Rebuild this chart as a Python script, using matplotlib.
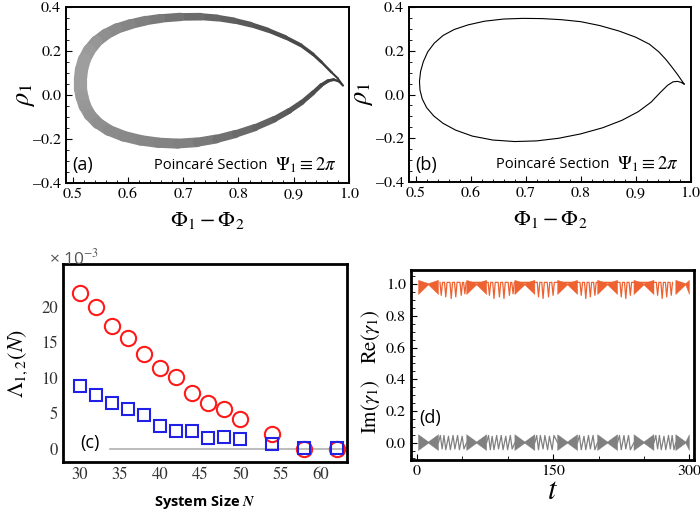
import numpy as np
import matplotlib
matplotlib.use('Agg')
import matplotlib.pyplot as plt
from matplotlib.collections import LineCollection
from matplotlib.ticker import MultipleLocator, FixedLocator

plt.rcParams['mathtext.fontset'] = 'stix'
plt.rcParams['font.family'] = 'STIXGeneral'

# (a) noisy Poincare section: centre line of the point band and band width (pt)
sec_a_x = [0.989, 0.980, 0.968, 0.950, 0.935, 0.913, 0.885, 0.853, 0.822, 0.792, 0.762, 0.732, 0.695,
           0.659, 0.632, 0.605, 0.580, 0.560, 0.543, 0.530, 0.521, 0.516, 0.514, 0.514, 0.517, 0.522,
           0.531, 0.545, 0.565, 0.592, 0.623, 0.655, 0.690, 0.725, 0.760, 0.795, 0.830, 0.865, 0.892,
           0.915, 0.935, 0.950, 0.962, 0.972, 0.981]
sec_a_y = [0.043, 0.075, 0.104, 0.150, 0.185, 0.226, 0.262, 0.295, 0.320, 0.338, 0.350, 0.356, 0.355,
           0.348, 0.338, 0.322, 0.302, 0.276, 0.243, 0.203, 0.160, 0.115, 0.070, 0.030, -0.010, -0.050,
           -0.090, -0.127, -0.160, -0.187, -0.206, -0.217, -0.221, -0.215, -0.200, -0.177, -0.148,
           -0.110, -0.072, -0.033, 0.010, 0.045, 0.064, 0.070, 0.063]
sec_a_w = [1.2, 1.4, 1.6, 2.0, 2.3, 2.6, 3.0, 3.4, 3.8, 4.3, 4.8, 5.2, 5.8, 6.3, 6.8, 7.2, 7.6, 8.0,
           8.5, 9.0, 9.3, 9.5, 9.5, 9.5, 9.3, 9.0, 8.7, 8.4, 8.0, 7.8, 7.6, 7.4, 7.2, 6.8, 6.2, 5.6,
           5.0, 4.5, 4.0, 3.6, 3.2, 2.8, 2.4, 2.0, 1.6]

# (b) clean Poincare section
sec_b_x = [0.988, 0.982, 0.975, 0.966, 0.955, 0.942, 0.925, 0.900, 0.870, 0.835, 0.800, 0.765, 0.730,
           0.695, 0.660, 0.625, 0.595, 0.570, 0.550, 0.534, 0.522, 0.514, 0.509, 0.507, 0.508, 0.512,
           0.520, 0.533, 0.550, 0.573, 0.603, 0.640, 0.680, 0.720, 0.760, 0.800, 0.840, 0.875, 0.905,
           0.928, 0.945, 0.958, 0.968, 0.976, 0.983, 0.988]
sec_b_y = [0.048, 0.070, 0.095, 0.125, 0.160, 0.195, 0.230, 0.262, 0.290, 0.315, 0.333, 0.342, 0.347,
           0.348, 0.345, 0.335, 0.318, 0.297, 0.270, 0.235, 0.195, 0.150, 0.105, 0.060, 0.020, -0.020,
           -0.060, -0.098, -0.132, -0.163, -0.190, -0.208, -0.215, -0.212, -0.200, -0.180, -0.152,
           -0.118, -0.078, -0.035, 0.010, 0.042, 0.058, 0.060, 0.055, 0.048]

# (c) Lyapunov exponents vs system size (units of 1e-3)
sizes = [30, 32, 34, 36, 38, 40, 42, 44, 46, 48, 50, 54, 58, 62]
lam1 = [22.0, 20.0, 17.35, 15.6, 13.4, 11.45, 10.1, 7.9, 6.5, 5.6, 4.25, 2.0, 0.0, 0.0]
lam2 = [8.85, 7.55, 6.4, 5.6, 4.7, 3.2, 2.55, 2.5, 1.55, 1.65, 1.4, 0.7, 0.1, 0.1]

# (d) gamma_1 time trace: dense beat packets (waist times) + isolated dips / zigzags
waists = [13, 66, 119, 166, 210, 250, 296]
packet_half = 11
re_dip_t = [27, 32, 38, 43, 49, 53, 80, 85, 91, 96, 102, 106, 134, 139, 145, 150,
            181, 186, 191, 196, 225, 230, 235, 265, 270, 275, 280]
re_dip_v = [0.93, 0.92, 0.91, 0.92, 0.93, 0.94, 0.93, 0.91, 0.92, 0.91, 0.93, 0.94, 0.92, 0.91, 0.92, 0.93,
            0.93, 0.91, 0.92, 0.93, 0.92, 0.91, 0.93, 0.93, 0.91, 0.92, 0.93]
im_zig_t = [24, 26, 28, 30, 32, 35, 37, 40, 42, 45, 47, 50, 52, 55,
            77, 79, 81, 83, 85, 88, 90, 93, 95, 98, 100, 103, 105, 108,
            130, 132, 134, 136, 139, 141, 144, 146, 149, 151, 155,
            177, 179, 181, 184, 186, 189, 191, 194, 196, 199,
            221, 223, 225, 228, 230, 233, 235, 239,
            261, 263, 265, 267, 269, 272, 274, 277, 279, 281, 283, 285]
im_zig_v = [0.0, 0.045, -0.04, 0.045, -0.045, 0.04, -0.045, 0.045, -0.04, 0.045, -0.045, 0.04, -0.04, 0.0,
            0.0, 0.045, -0.045, 0.04, -0.045, 0.045, -0.04, 0.045, -0.045, 0.04, -0.045, 0.045, -0.04, 0.0,
            0.0, 0.045, -0.045, 0.045, -0.04, 0.045, -0.045, 0.04, -0.045, 0.045, 0.0,
            0.0, 0.045, -0.045, 0.04, -0.045, 0.045, -0.04, 0.045, -0.045, 0.0,
            0.0, 0.045, -0.045, 0.045, -0.04, 0.045, -0.045, 0.0,
            0.0, 0.045, -0.04, 0.045, -0.045, 0.04, -0.045, 0.045, -0.04, 0.045, -0.045, 0.0]

orange = '#ee6130'
grey_d = '#808080'
sans = 'Open Sans'

fig = plt.figure(figsize=(7.0, 5.11), dpi=100)
ax_a = fig.add_axes([0.0943, 0.6419, 0.4043, 0.3444])
ax_b = fig.add_axes([0.5843, 0.6438, 0.4024, 0.3425])
ax_c = fig.add_axes([0.0900, 0.0959, 0.4057, 0.3875])
ax_d = fig.add_axes([0.5867, 0.0998, 0.4047, 0.3718])


def style_axes(ax, lw):
    for s in ax.spines.values():
        s.set_linewidth(lw)
    ax.tick_params(which='both', direction='in', labelsize=11.5, top=False, right=False)
    ax.tick_params(which='major', length=4, width=0.8)
    ax.tick_params(which='minor', length=2, width=0.6)


# ---- (a) and (b)
for ax, lab, ylx in [(ax_a, '(a)', -0.104), (ax_b, '(b)', -0.121)]:
    ax.set_xlim(0.488, 1.0)
    ax.set_ylim(-0.4, 0.4)
    ax.xaxis.set_major_locator(MultipleLocator(0.1))
    ax.xaxis.set_minor_locator(MultipleLocator(0.02))
    ax.yaxis.set_major_locator(MultipleLocator(0.2))
    ax.yaxis.set_minor_locator(MultipleLocator(0.05))
    ax.xaxis.set_major_formatter(plt.FuncFormatter(lambda v, p: f'{v:.1f}'))
    ax.yaxis.set_major_formatter(plt.FuncFormatter(lambda v, p: f'{v:.1f}'.replace('-', '\u2013')))
    style_axes(ax, 1.4)
    ax.set_xlabel(r'$\Phi_1-\Phi_2$', fontsize=16, labelpad=6)
    ax.set_ylabel(r'$\rho_1$', fontsize=19)
    ax.yaxis.set_label_coords(ylx, 0.5)
    ax.text(0.022, 0.1, lab, transform=ax.transAxes, fontsize=13, family=sans, va='center')
    ax.text(0.31, 0.1, 'Poincaré Section', transform=ax.transAxes, fontsize=10.5, family=sans,
            va='center', ha='left')
    ax.text(0.955, 0.1, r'$\Psi_1\equiv 2\pi$', transform=ax.transAxes, fontsize=13.5,
            va='center', ha='right')

pts = np.column_stack([sec_a_x + sec_a_x[:1], sec_a_y + sec_a_y[:1]])
segs = np.stack([pts[:-1], pts[1:]], axis=1)
w = np.array(sec_a_w)
w_seg = (w + np.roll(w, -1)) / 2
shades = [str(min(0.15 + 0.05 * v, 0.62)) for v in w_seg]
lc = LineCollection(segs, linewidths=w_seg, colors=shades, capstyle='round', joinstyle='round')
ax_a.add_collection(lc)

ax_b.plot(sec_b_x, sec_b_y, color='black', lw=0.8)

# ---- (c)
ax_c.set_xlim(27.9, 63.3)
ax_c.set_ylim(-1.9, 26.1)
ax_c.xaxis.set_major_locator(MultipleLocator(5))
ax_c.yaxis.set_major_locator(FixedLocator([0, 5, 10, 15, 20]))
style_axes(ax_c, 2.0)
ax_c.tick_params(colors='#333333', labelsize=12)
ax_c.tick_params(which='major', length=0)
ax_c.axhline(0, xmin=(33.7 - 27.9) / (63.3 - 27.9), color='#b0b0b0', lw=1.2, zorder=1)
ax_c.plot(sizes, lam1, 'o', ms=11, mfc='none', mec='#ff1a1a', mew=1.5, zorder=3)
ax_c.plot(sizes, lam2, 's', ms=8, mfc='none', mec='#2020e6', mew=1.5, zorder=3)
ax_c.set_ylabel(r'$\Lambda_{1,2}(N)$', fontsize=16, labelpad=8)
ax_c.set_xlabel(r'System Size $\boldsymbol{N}$', fontsize=10.5, family=sans, fontweight='bold',
                labelpad=7)
ax_c.text(0.095, 0.096, '(c)', transform=ax_c.transAxes, fontsize=13, family=sans,
          va='center', ha='center')
fig.text(49 / 700, 1 - 258 / 511, '× 10$^{-3}$', fontsize=12.5, family=sans, color='#555555',
         va='center')

# ---- (d)
ax_d.set_xlim(-6.6, 305)
ax_d.set_ylim(-0.11, 1.09)
ax_d.xaxis.set_major_locator(MultipleLocator(150))
ax_d.xaxis.set_minor_locator(MultipleLocator(50))
ax_d.yaxis.set_major_locator(MultipleLocator(0.2))
ax_d.yaxis.set_minor_locator(MultipleLocator(0.05))
ax_d.yaxis.set_major_formatter(plt.FuncFormatter(lambda v, p: f'{v:.1f}'))
style_axes(ax_d, 2.0)
ax_d.tick_params(which='minor', length=3)

for wt in waists:
    lo, hi = max(wt - packet_half, 0), min(wt + packet_half, 300)
    ax_d.fill([lo, wt, hi, hi, wt, lo], [1.025, 1.004, 1.025, 0.935, 0.996, 0.935],
              color=orange, lw=0.3, ec=orange)
    ax_d.fill([lo, wt, hi, hi, wt, lo], [0.05, 0.004, 0.05, -0.05, -0.004, -0.05],
              color=grey_d, lw=0.3, ec=grey_d)

re_t, re_v = [], []
for t, v in zip(re_dip_t, re_dip_v):
    re_t += [t - 1.4, t, t + 1.4]
    re_v += [1.012, v, 1.012]
ax_d.plot(re_t, re_v, color=orange, lw=0.9)
ax_d.plot(im_zig_t, im_zig_v, color=grey_d, lw=0.9)

ax_d.set_xlabel(r'$t$', fontsize=22, labelpad=0)
ax_d.text(0.068, 0.22, '(d)', transform=ax_d.transAxes, fontsize=13, family=sans,
          va='center', ha='center')
fig.text(370 / 700, 1 - 407 / 511, r'$\mathrm{Im}(\gamma_1)$', rotation=90, fontsize=15,
         ha='center', va='center')
fig.text(370 / 700, 1 - 337 / 511, r'$\mathrm{Re}(\gamma_1)$', rotation=90, fontsize=15,
         ha='center', va='center')

fig.savefig('out.png', dpi=100)
